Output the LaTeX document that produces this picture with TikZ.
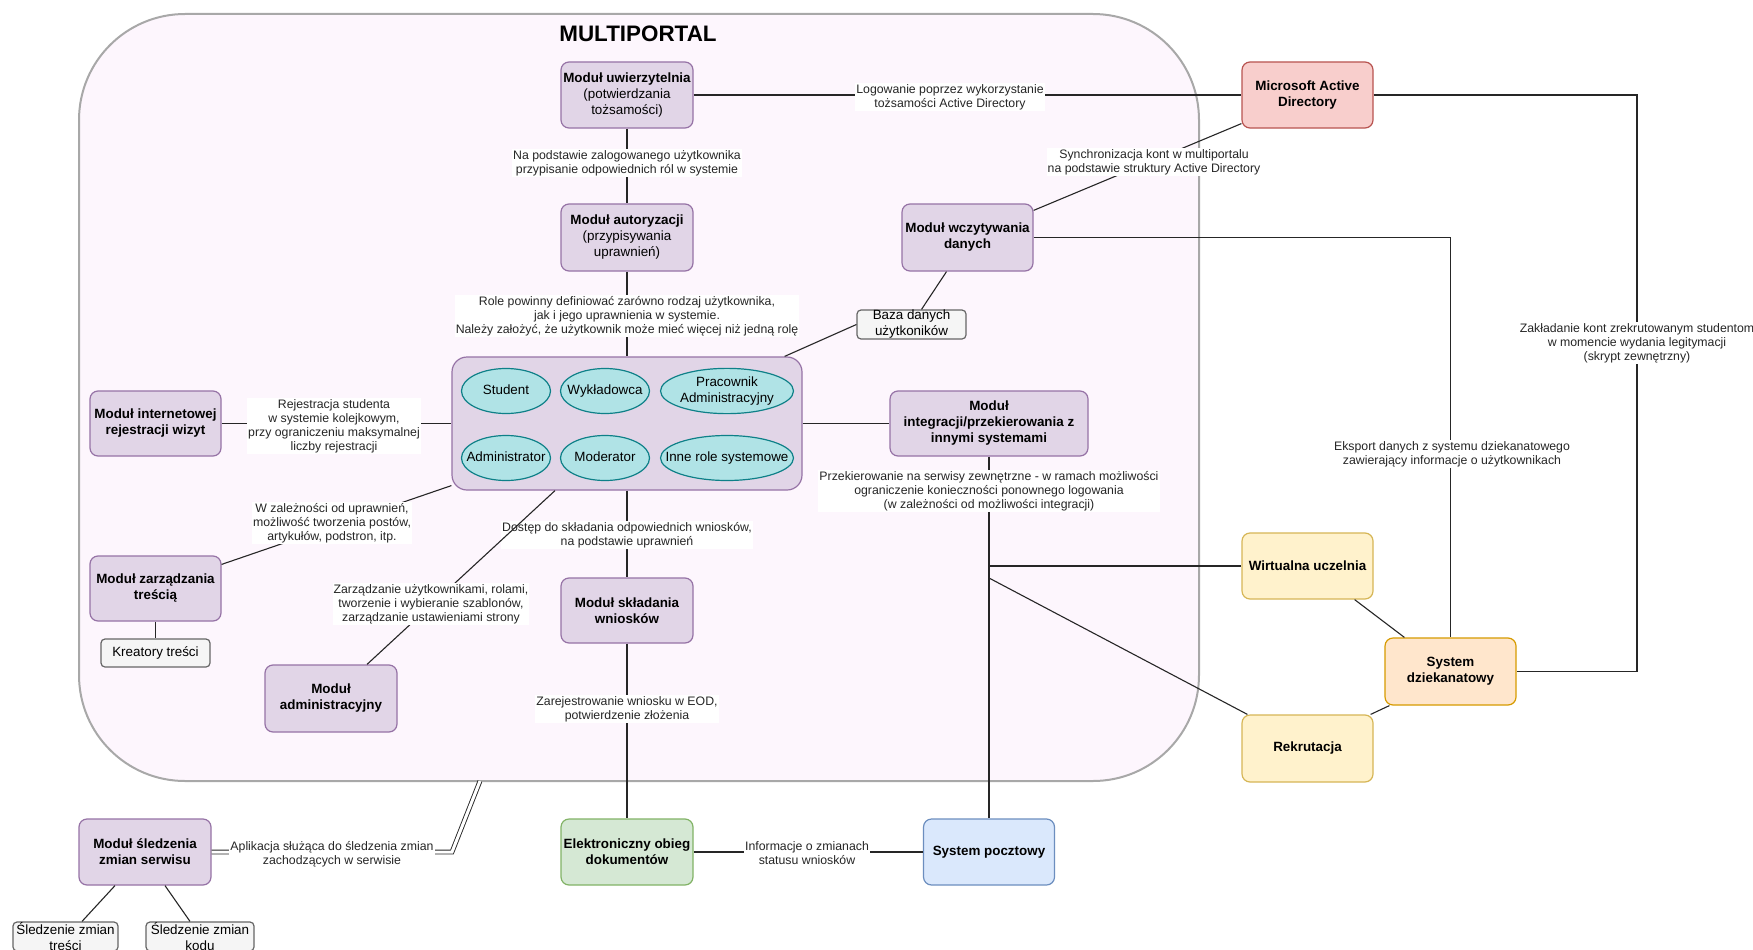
\documentclass[tikz,border=0pt]{standalone}
\usepackage{fontspec}
\setmainfont{Liberation Sans}
\usetikzlibrary{shapes.geometric,calc}
\definecolor{pfill}{HTML}{E1D5E7}\definecolor{pdraw}{HTML}{9673A6}
\definecolor{cfill}{HTML}{B0E3E6}\definecolor{cdraw}{HTML}{0E8088}
\definecolor{rfill}{HTML}{F8CECC}\definecolor{rdraw}{HTML}{B85450}
\definecolor{yfill}{HTML}{FFF2CC}\definecolor{ydraw}{HTML}{D6B656}
\definecolor{ofill}{HTML}{FFE6CC}\definecolor{odraw}{HTML}{D79B00}
\definecolor{bfill}{HTML}{DAE8FC}\definecolor{bdraw}{HTML}{6C8EBF}
\definecolor{gnfill}{HTML}{D5E8D4}\definecolor{gndraw}{HTML}{82B366}
\definecolor{gfill}{HTML}{F5F5F5}\definecolor{gdraw}{HTML}{666666}
\definecolor{mpfill}{HTML}{FDF6FD}\definecolor{mpdraw}{HTML}{A8A8A8}
\newcommand\ndfont{\fontsize{13.4}{16}\selectfont}
\newcommand\lbfont{\fontsize{12.3}{14}\selectfont}
\newcommand\zw[1]{\makebox[0pt][c]{\begin{tabular}{@{}c@{}}#1\end{tabular}}}
\begin{document}
\begin{tikzpicture}[x=1pt,y=-1pt,
  box/.style={rounded corners=8pt, line width=1.2pt, align=center, font=\ndfont, inner xsep=1pt, inner ysep=0pt, text=black},
  bft/.style={font=\ndfont\bfseries},
  pbox/.style={box, fill=pfill, draw=pdraw},
  rbox/.style={box, fill=rfill, draw=rdraw},
  ybox/.style={box, fill=yfill, draw=ydraw},
  obox/.style={box, fill=ofill, draw=odraw},
  bbox/.style={box, fill=bfill, draw=bdraw},
  gnbox/.style={box, fill=gnfill, draw=gndraw},
  gbox/.style={box, fill=gfill, draw=gdraw, rounded corners=4pt},
  ell/.style={ellipse, fill=cfill, draw=cdraw, line width=1.2pt, minimum width=89pt, minimum height=45pt, inner sep=0pt, font=\ndfont},
  lbl/.style={fill=white, align=center, font=\lbfont, inner sep=1pt, text=black!85},
  conn/.style={draw=black!85, line width=1.1pt}
]
\useasboundingbox (0,0) rectangle (1753,950);
\fill[white] (0,0) rectangle (1753,950);

% container
\node[draw=mpdraw, fill=mpfill, line width=2pt, rounded corners=106pt, minimum width=1120pt, minimum height=767pt, inner sep=0pt] (mp) at (639,397.5) {};
\node[font=\bfseries\fontsize{22.4}{26}\selectfont] (title) at (638,34) {MULTIPORTAL};

% nodes
\node[pbox, minimum width=132pt, minimum height=66pt] (uw) at (627,95) {\textbf{Moduł uwierzytelnia}\\(potwierdzania\\tożsamości)};
\node[pbox, minimum width=132pt, minimum height=67pt] (au) at (627,237.5) {\textbf{Moduł autoryzacji}\\(przypisywania\\uprawnień)};
\node[pbox, bft, minimum width=131pt, minimum height=67pt] (wcz) at (967.5,237.5) {Moduł wczytywania\\danych};
\node[gbox, minimum width=109pt, minimum height=29pt] (baza) at (911.5,324.5) {Baza danych\\użytkoników};
\node[pbox, rounded corners=15pt, minimum width=350pt, minimum height=133pt] (roles) at (627,423.5) {};
\node[ell] (r1) at (506,391) {\zw{Student}};
\node[ell] (r2) at (605,391) {\zw{Wykładowca}};
\node[ell, minimum width=133pt] (r3) at (727,391) {\zw{Pracownik\\Administracyjny}};
\node[ell] (r4) at (506,458) {\zw{Administrator}};
\node[ell] (r5) at (605,458) {\zw{Moderator}};
\node[ell, minimum width=133pt] (r6) at (727,458) {\zw{Inne role systemowe}};
\node[pbox, bft, minimum width=131pt, minimum height=65pt] (reg) at (155.5,423.5) {Moduł internetowej\\rejestracji wizyt};
\node[pbox, bft, minimum width=131pt, minimum height=65pt] (zt) at (155.5,588.5) {Moduł zarządzania\\treścią};
\node[gbox, minimum width=109pt, minimum height=28pt] (kre) at (155.5,653) {Kreatory treści};
\node[pbox, bft, minimum width=132pt, minimum height=67pt] (adm) at (331,698.5) {Moduł\\administracyjny};
\node[pbox, bft, minimum width=132pt, minimum height=65pt] (skl) at (627,610.5) {Moduł składania\\wniosków};
\node[pbox, bft, minimum width=198pt, minimum height=65pt] (integ) at (989,423.5) {Moduł\\integracji/przekierowania z\\innymi systemami};
\node[rbox, bft, minimum width=131pt, minimum height=66pt] (mad) at (1307.5,95) {Microsoft Active\\Directory};
\node[ybox, bft, minimum width=131pt, minimum height=66pt] (wu) at (1307.5,566) {Wirtualna uczelnia};
\node[obox, bft, minimum width=131pt, minimum height=67pt] (sd) at (1450.5,671.5) {System\\dziekanatowy};
\node[ybox, bft, minimum width=131pt, minimum height=67pt] (rek) at (1307.5,748.5) {Rekrutacja};
\node[bbox, bft, minimum width=131pt, minimum height=66pt] (post) at (989,852) {System pocztowy};
\node[gnbox, bft, minimum width=132pt, minimum height=66pt] (eod) at (627,852) {Elektroniczny obieg\\dokumentów};
\node[pbox, bft, minimum width=132pt, minimum height=66pt] (sle) at (145,852) {Moduł śledzenia\\zmian serwisu};
\node[gbox, minimum width=105pt, minimum height=29pt] (st1) at (65.5,936.5) {Śledzenie zmian\\treści};
\node[gbox, minimum width=108pt, minimum height=29pt] (st2) at (200,936.5) {Śledzenie zmian\\kodu};

% coordinates
\coordinate (j1) at (989,566);
\coordinate (j2) at (989,578);
\coordinate (rt) at (1637,95);
\coordinate (d1) at (452,852);
\coordinate (d2) at (480,781);

% connectors
\draw[conn] (uw) -- (au);
\draw[conn] (au) -- (roles);
\draw[conn] (uw.east) -- (mad.west);
\draw[conn] ([yshift=5pt]mad.south west) -- ([yshift=-7pt]wcz.north east);
\draw[conn] (wcz.east) -| (sd.north);
\draw[conn] ([xshift=-21pt]wcz.south) -- ([xshift=10pt]baza.north);
\draw[conn] (baza.west) -- ([xshift=-18pt]roles.north east);
\draw[conn] (reg.east) -- (roles.west);
\draw[conn] ([yshift=5pt]roles.south west) -- ([yshift=-9pt]zt.north east);
\draw[conn] (zt.south) -- (kre.north);
\draw[conn] (roles.south) -- (skl.north);
\node[lbl] (l10) at (627,535) {Dostęp do składania odpowiednich wniosków,\\na podstawie uprawnień};
\draw[conn] ([xshift=-72pt]roles.south) -- ([xshift=36pt]adm.north);
\draw[conn] (skl.south) -- (eod.north);
\draw[conn] (eod.east) -- (post.west);
\draw[conn] (roles.east) -- (integ.west);
\draw[conn] (integ.south) -- (post.north);
\draw[conn] (j1) -- (wu.west);
\draw[conn] (j2) -- ([xshift=6pt]rek.north west);
\draw[conn] ([xshift=-19pt]wu.south east) -- ([xshift=20pt]sd.north west);
\draw[conn] ([xshift=-3pt]rek.north east) -- ([xshift=5pt]sd.south west);
\draw[conn] (mad.east) -- (rt) |- (sd.east);
\draw[draw=black!85, line width=0.9pt, double=white, double distance=3pt] (sle.east) -- (d1) -- (d2);
\draw[conn] ([xshift=-30pt]sle.south) -- ([xshift=16.5pt]st1.north);
\draw[conn] ([xshift=20pt]sle.south) -- ([xshift=-10pt]st2.north);

% labels
\node[lbl] (l1) at (627,163) {Na podstawie zalogowanego użytkownika\\przypisanie odpowiednich ról w systemie};
\node[lbl] (l2) at (627,316) {Role powinny definiować zarówno rodzaj użytkownika,\\jak i jego uprawnienia w systemie.\\Należy założyć, że użytkownik może mieć więcej niż jedną rolę};
\node[lbl] (l3) at (950,97) {Logowanie poprzez wykorzystanie\\tożsamości Active Directory};
\node[lbl] (l4) at (1154,162) {Synchronizacja kont w multiportalu\\na podstawie struktury Active Directory};
\node[lbl] (l5) at (1637,343) {Zakładanie kont zrekrutowanym studentom\\w momencie wydania legitymacji\\(skrypt zewnętrzny)};
\node[lbl] (l6) at (1452,454) {Eksport danych z systemu dziekanatowego\\zawierający informacje o użytkownikach};
\node[lbl] (l7) at (334,426) {Rejestracja studenta\\w systemie kolejkowym,\\przy ograniczeniu maksymalnej\\liczby rejestracji};
\node[lbl] (l8) at (332,523) {W zależności od uprawnień,\\możliwość tworzenia postów,\\artykułów, podstron, itp.};
\node[lbl] (l9) at (431,604) {Zarządzanie użytkownikami, rolami,\\tworzenie i wybieranie szablonów,\\zarządzanie ustawieniami strony};
\node[lbl] (l11) at (989,491) {Przekierowanie na serwisy zewnętrzne - w ramach możliwości\\ograniczenie konieczności ponownego logowania\\(w zależności od możliwości integracji)};
\node[lbl] (l12) at (627,709) {Zarejestrowanie wniosku w EOD,\\potwierdzenie złożenia};
\node[lbl] (l13) at (807,853) {Informacje o zmianach\\statusu wniosków};
\node[lbl] (l14) at (332,854) {Aplikacja służąca do śledzenia zmian\\zachodzących w serwisie};
\end{tikzpicture}
\end{document}
